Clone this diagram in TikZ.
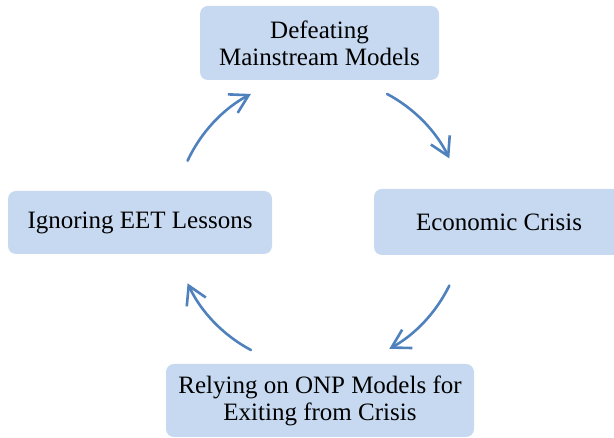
\documentclass[tikz,border=0pt]{standalone}
\usepackage{fontspec}
\setmainfont{Liberation Serif}
\usetikzlibrary{arrows.meta, calc}
\definecolor{boxblue}{RGB}{198, 217, 240}
\definecolor{arcblue}{RGB}{79, 129, 189}

\begin{document}
\begin{tikzpicture}[
  x=1pt, y=1pt,
  cbox/.style={fill=boxblue, rounded corners=8pt, align=center, inner sep=0pt, font=\fontsize{25}{27}\selectfont},
  cyc/.style={draw=arcblue, line width=2.6pt, line cap=round, -{Straight Barb[length=18pt, width=21pt, line width=2.6pt]}}
]
  \useasboundingbox (0,0) rectangle (614,438);
  \coordinate (hub) at (319,216);

  \node[cbox, minimum width=239, minimum height=74] (defeat) at (319.5,395) {Defeating\\Mainstream Models};
  \node[cbox, minimum width=250, minimum height=66] (crisis) at (499,216) {Economic Crisis};
  \node[cbox, minimum width=308, minimum height=73] (relying) at (320,37.5) {Relying on ONP Models for\\Exiting from Crisis};
  \node[cbox, minimum width=264, minimum height=63] (ignore) at (140,215.5) {Ignoring EET Lessons};

  \foreach \s/\e in {62/26, -26/-61, 242/205, 155/118}
    \draw[cyc] ($(hub)+(\s:145pt)$) arc[start angle=\s, end angle=\e, radius=145pt];
\end{tikzpicture}
\end{document}
